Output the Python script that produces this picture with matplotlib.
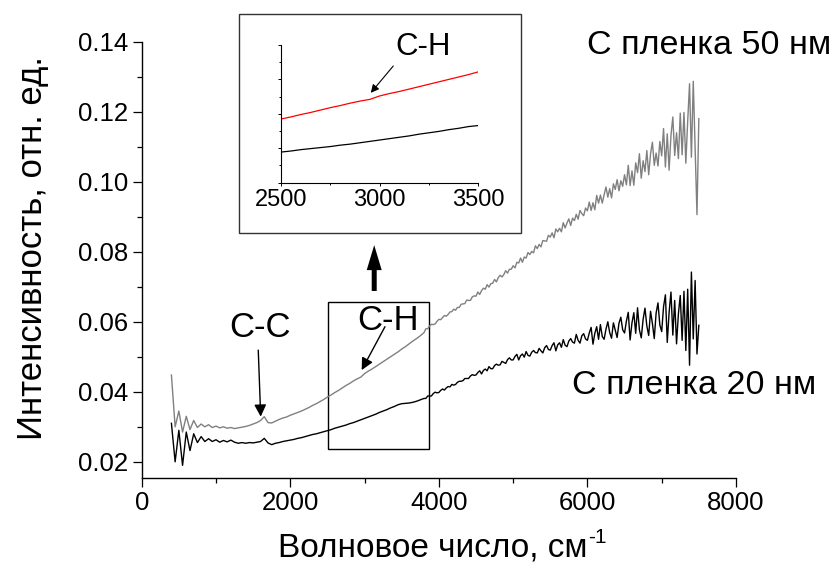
import numpy as np
import matplotlib
matplotlib.use("Agg")
import matplotlib.pyplot as plt
from matplotlib.ticker import MultipleLocator, FormatStrFormatter
from matplotlib.patches import Rectangle

plt.rcParams["font.family"] = ["Liberation Sans", "DejaVu Sans"]
plt.rcParams["mathtext.default"] = "regular"

# === DATA ===
# wavenumber grid, cm^-1: coarse smooth part, then the finer noisy part
wn_coarse = np.arange(400, 3801, 50)
wn_fine = np.arange(3825, 7501, 25)

film50_coarse = [
    0.0448, 0.0300, 0.0345, 0.0285, 0.0330, 0.0292, 0.0318, 0.0298, 0.0308, 0.0300,
    0.0306, 0.0298, 0.0302, 0.0297, 0.0300, 0.0296, 0.0298, 0.0295, 0.0297, 0.0299,
    0.0301, 0.0304, 0.0308, 0.0312, 0.0318, 0.0329, 0.0312, 0.0311, 0.0316, 0.0321,
    0.0325, 0.0328, 0.0333, 0.0337, 0.0341, 0.0345, 0.0350, 0.0355, 0.0361, 0.0366,
    0.0372, 0.0378, 0.0385, 0.0391, 0.0398, 0.0404, 0.0411, 0.0418, 0.0424, 0.0431,
    0.0437, 0.0442, 0.0452, 0.0459, 0.0465, 0.0472, 0.0479, 0.0486, 0.0493, 0.0500,
    0.0507, 0.0514, 0.0522, 0.0529, 0.0537, 0.0545, 0.0552, 0.0560, 0.0569,
]
film50_fine = [
    0.0580, 0.0580, 0.0588, 0.0593, 0.0592, 0.0594, 0.0601, 0.0607,
    0.0606, 0.0612, 0.0618, 0.0616, 0.0621, 0.0628, 0.0629, 0.0636, 0.0633, 0.0641,
    0.0641, 0.0650, 0.0651, 0.0652, 0.0662, 0.0661, 0.0661, 0.0671, 0.0674, 0.0673,
    0.0685, 0.0678, 0.0689, 0.0696, 0.0693, 0.0706, 0.0699, 0.0709, 0.0710, 0.0721,
    0.0714, 0.0726, 0.0733, 0.0728, 0.0735, 0.0746, 0.0739, 0.0750, 0.0750, 0.0760,
    0.0754, 0.0770, 0.0768, 0.0782, 0.0770, 0.0785, 0.0782, 0.0798, 0.0792, 0.0801,
    0.0797, 0.0817, 0.0809, 0.0821, 0.0814, 0.0832, 0.0831, 0.0830, 0.0847, 0.0842,
    0.0854, 0.0840, 0.0865, 0.0857, 0.0867, 0.0857, 0.0883, 0.0868, 0.0882, 0.0894,
    0.0875, 0.0896, 0.0889, 0.0907, 0.0893, 0.0918, 0.0909, 0.0903, 0.0925, 0.0917,
    0.0942, 0.0918, 0.0940, 0.0920, 0.0961, 0.0939, 0.0962, 0.0939, 0.0963, 0.0985,
    0.0956, 0.0980, 0.0954, 0.0994, 0.0978, 0.1006, 0.0974, 0.1003, 0.0987, 0.1020,
    0.0991, 0.1047, 0.0989, 0.1031, 0.0990, 0.1054, 0.1026, 0.1080, 0.1010, 0.1060,
    0.1029, 0.1089, 0.1020, 0.1080, 0.1113, 0.1047, 0.1082, 0.1045, 0.1115, 0.1074,
    0.1152, 0.1042, 0.1137, 0.1033, 0.1133, 0.1185, 0.1075, 0.1140, 0.1066, 0.1196,
    0.1077, 0.1198, 0.1053, 0.1173, 0.1280, 0.1070, 0.1287, 0.1098, 0.0906, 0.1180,
]

film20_coarse = [
    0.0310, 0.0200, 0.0290, 0.0190, 0.0285, 0.0232, 0.0280, 0.0255, 0.0272, 0.0258,
    0.0266, 0.0258, 0.0263, 0.0256, 0.0261, 0.0257, 0.0262, 0.0256, 0.0253, 0.0255,
    0.0253, 0.0255, 0.0254, 0.0256, 0.0258, 0.0267, 0.0254, 0.0249, 0.0253, 0.0255,
    0.0258, 0.0260, 0.0262, 0.0264, 0.0267, 0.0269, 0.0272, 0.0275, 0.0278, 0.0280,
    0.0283, 0.0286, 0.0289, 0.0292, 0.0296, 0.0299, 0.0302, 0.0305, 0.0309, 0.0312,
    0.0316, 0.0320, 0.0324, 0.0328, 0.0332, 0.0336, 0.0341, 0.0345, 0.0349, 0.0354,
    0.0358, 0.0363, 0.0366, 0.0367, 0.0368, 0.0370, 0.0373, 0.0377, 0.0381,
]
film20_fine = [
    0.0381, 0.0388, 0.0388, 0.0388, 0.0395, 0.0399, 0.0397, 0.0398,
    0.0404, 0.0408, 0.0405, 0.0411, 0.0415, 0.0414, 0.0421, 0.0419, 0.0421, 0.0427,
    0.0430, 0.0430, 0.0432, 0.0438, 0.0438, 0.0438, 0.0445, 0.0449, 0.0447, 0.0448,
    0.0455, 0.0460, 0.0451, 0.0461, 0.0465, 0.0460, 0.0472, 0.0466, 0.0466, 0.0475,
    0.0479, 0.0476, 0.0477, 0.0487, 0.0484, 0.0481, 0.0492, 0.0497, 0.0491, 0.0491,
    0.0501, 0.0507, 0.0491, 0.0503, 0.0508, 0.0499, 0.0515, 0.0504, 0.0502, 0.0513,
    0.0518, 0.0512, 0.0511, 0.0524, 0.0517, 0.0511, 0.0526, 0.0532, 0.0521, 0.0519,
    0.0532, 0.0540, 0.0517, 0.0534, 0.0540, 0.0527, 0.0549, 0.0533, 0.0529, 0.0545,
    0.0552, 0.0542, 0.0539, 0.0564, 0.0547, 0.0539, 0.0560, 0.0566, 0.0551, 0.0547,
    0.0568, 0.0584, 0.0536, 0.0567, 0.0586, 0.0550, 0.0592, 0.0558, 0.0550, 0.0579,
    0.0600, 0.0569, 0.0553, 0.0597, 0.0576, 0.0555, 0.0596, 0.0613, 0.0577, 0.0568,
    0.0602, 0.0627, 0.0548, 0.0597, 0.0626, 0.0567, 0.0640, 0.0577, 0.0554, 0.0607,
    0.0639, 0.0588, 0.0561, 0.0630, 0.0595, 0.0552, 0.0625, 0.0654, 0.0591, 0.0572,
    0.0643, 0.0677, 0.0541, 0.0627, 0.0685, 0.0562, 0.0661, 0.0537, 0.0623, 0.0675,
    0.0547, 0.0687, 0.0518, 0.0693, 0.0476, 0.0742, 0.0551, 0.0718, 0.0508, 0.0590,
]

wn = np.concatenate([wn_coarse, wn_fine])
film50 = np.array(film50_coarse + film50_fine)
film20 = np.array(film20_coarse + film20_fine)

# === FIGURE ===
fig = plt.figure(figsize=(8.37, 5.66), dpi=100)
ax = fig.add_axes([0.1693, 0.155, 0.7100, 0.7713])

ax.plot(wn, film50, color="#808080", lw=1.0)
ax.plot(wn, film20, color="black", lw=1.0)

ax.set_xlim(0, 8000)
ax.set_ylim(0.0153, 0.14)
ax.xaxis.set_major_locator(MultipleLocator(2000))
ax.xaxis.set_minor_locator(MultipleLocator(1000))
ax.yaxis.set_minor_locator(MultipleLocator(0.01))
ax.set_yticks(np.arange(0.02, 0.141, 0.02))
ax.yaxis.set_major_formatter(FormatStrFormatter("%.2f"))
for s in ["top", "right"]:
    ax.spines[s].set_visible(False)
for s in ["left", "bottom"]:
    ax.spines[s].set_linewidth(1.0)
ax.tick_params(which="major", direction="out", length=6.5, width=0.9, labelsize=18.5, pad=3)
ax.tick_params(which="minor", direction="out", length=3.6, width=0.9)

xlab = fig.text(0.5173, 0.032, "Волновое число, см", fontsize=24, ha="center", va="center")
ax.annotate("-1", xy=(1.0, 0.85), xycoords=xlab, fontsize=15, ha="left", va="center")
fig.text(0.0394, 0.5618, "Интенсивность, отн. ед.", fontsize=25, ha="center", va="center", rotation=90)

# annotations
thin = dict(arrowstyle="-|>", lw=1.0, color="black", mutation_scale=18, shrinkA=0, shrinkB=0)
ax.annotate("", xy=(1602, 0.0329), xytext=(1569, 0.0519), arrowprops=thin)
ax.text(1588, 0.0585, "C-C", fontsize=25, ha="center", va="center")
ax.annotate("", xy=(2961, 0.0462), xytext=(3275, 0.0586), arrowprops=thin)
ax.text(3312, 0.0603, "C-H", fontsize=25, ha="center", va="center")
ax.add_patch(Rectangle((2510, 0.0238), 1360, 0.0419, fill=False, lw=1.0, ec="black"))
ax.annotate("", xy=(3130, 0.0819), xytext=(3130, 0.0688),
            arrowprops=dict(arrowstyle="simple,head_length=18,head_width=10.8,tail_width=3.6",
                            mutation_scale=1, color="black", lw=0, shrinkA=0, shrinkB=0))

fig.text(709 / 837, 1 - 45 / 566, "C пленка 50 нм", fontsize=24.5, ha="center", va="center")
fig.text(694 / 837, 1 - 386 / 566, "C пленка 20 нм", fontsize=24.5, ha="center", va="center")

# === INSET ===
fig.patches.append(Rectangle((239.3 / 837, 1 - 233.3 / 566), (521 - 239.3) / 837, (233.3 - 14.3) / 566,
                             transform=fig.transFigure, fill=False, lw=1.0, ec="#333333"))
axin = fig.add_axes([281 / 837, 383.3 / 566, 197.3 / 837, 137.7 / 566])
axin.plot(wn, film50, color="red", lw=0.9)
axin.plot(wn, film20, color="black", lw=0.9)
axin.set_xlim(2500, 3500)
axin.set_ylim(0.02, 0.06)
axin.xaxis.set_major_locator(MultipleLocator(500))
axin.xaxis.set_minor_locator(MultipleLocator(250))
axin.yaxis.set_major_locator(MultipleLocator(0.01))
axin.yaxis.set_minor_locator(MultipleLocator(0.005))
axin.set_yticklabels([])
for s in ["top", "right"]:
    axin.spines[s].set_visible(False)
for s in ["left", "bottom"]:
    axin.spines[s].set_linewidth(0.8)
axin.tick_params(which="major", direction="out", length=2.5, width=0.7, labelsize=17, pad=2)
axin.tick_params(which="minor", direction="out", length=1.5, width=0.7)
axin.annotate("", xy=(2955, 0.0461), xytext=(3069, 0.0539),
              arrowprops=dict(arrowstyle="-|>", lw=0.8, color="black", mutation_scale=12,
                              shrinkA=0, shrinkB=0))
axin.text(3221, 0.0593, "C-H", fontsize=22.5, ha="center", va="center", clip_on=False)

fig.savefig("out.png", dpi=100)
